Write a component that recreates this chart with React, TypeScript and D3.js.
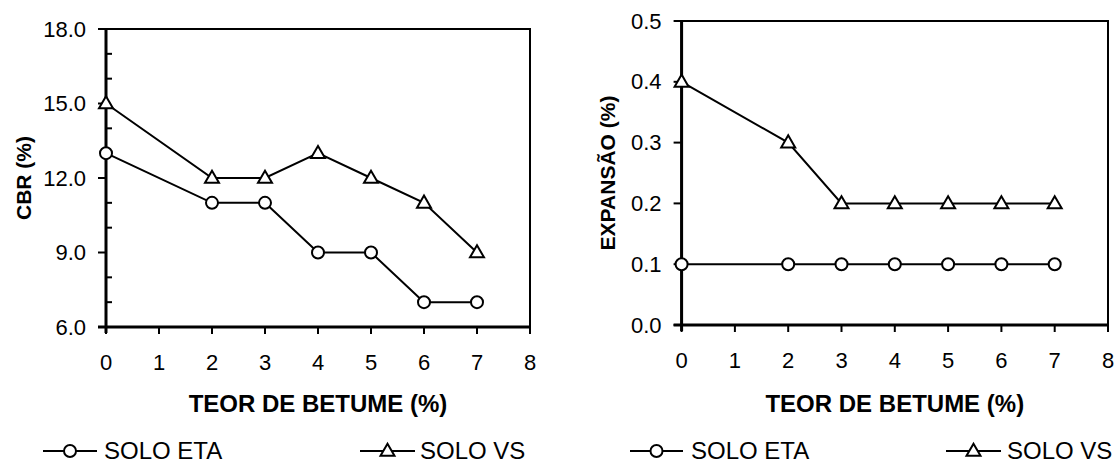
import React from 'react';
import * as d3 from 'd3';

const teor = [0, 2, 3, 4, 5, 6, 7];
const cbrEta = [13, 11, 11, 9, 9, 7, 7];
const cbrVs = [15, 12, 12, 13, 12, 11, 9];
const expEta = [0.1, 0.1, 0.1, 0.1, 0.1, 0.1, 0.1];
const expVs = [0.4, 0.3, 0.2, 0.2, 0.2, 0.2, 0.2];
const xTicks = [0, 1, 2, 3, 4, 5, 6, 7, 8];
const cbrTicks = [6, 9, 12, 15, 18];
const cbrMinor = [7, 8, 10, 11, 13, 14, 16, 17];
const expTicks = [0, 0.1, 0.2, 0.3, 0.4, 0.5];
const seriesNames = ['SOLO ETA', 'SOLO VS'];
const xTitle = 'TEOR DE BETUME (%)';

const FONT = "'Liberation Sans', Arial, sans-serif";
const FS = 22;

type PanelProps = {
  left: number; right: number; top: number; bottom: number;
  yDomain: [number, number]; yTicks: number[]; yMinor: number[];
  eta: number[]; vs: number[]; yTitle: string; yTitleX: number;
  legend: { etaLine: [number, number]; etaText: number; vsLine: [number, number]; vsText: number };
};

function Circle({ x, y }: { x: number; y: number }) {
  return <circle cx={x} cy={y} r={6} fill="white" stroke="black" strokeWidth={2} />;
}
function Tri({ x, y }: { x: number; y: number }) {
  const s = 14;
  const h = s * 0.866;
  const p = d3.path();
  p.moveTo(x, y - h * 0.6);
  p.lineTo(x + s / 2, y + h * 0.4);
  p.lineTo(x - s / 2, y + h * 0.4);
  p.closePath();
  return <path d={p.toString()} fill="white" stroke="black" strokeWidth={2} strokeLinejoin="miter" />;
}

function Panel(props: PanelProps) {
  const { left, right, top, bottom, yDomain, yTicks, yMinor, eta, vs, yTitle, yTitleX, legend } = props;
  const x = d3.scaleLinear().domain([0, 8]).range([left, right]);
  const y = d3.scaleLinear().domain(yDomain).range([bottom, top]);
  const line = d3.line<number>().x((_, i) => x(teor[i])).y((d) => y(d));
  const fmt = d3.format('.1f');
  const legY = 451;
  const legBase = 459;
  return (
    <g>
      <rect x={left} y={top} width={right - left} height={bottom - top} fill="white" stroke="black" strokeWidth={2} />
      <line x1={left} x2={left} y1={top} y2={bottom + 6} stroke="black" strokeWidth={3} />
      <line x1={left - 8} x2={right} y1={bottom} y2={bottom} stroke="black" strokeWidth={3} />
      {yTicks.map((t) => (
        <g key={'yt' + t}>
          <line x1={left - 8} x2={left} y1={y(t)} y2={y(t)} stroke="black" strokeWidth={2} />
          <text x={left - 20} y={y(t)} textAnchor="end" dominantBaseline="central" fontSize={FS} fontFamily={FONT}>{fmt(t)}</text>
        </g>
      ))}
      {yMinor.map((t) => (
        <line key={'ym' + t} x1={left} x2={left + 6} y1={y(t)} y2={y(t)} stroke="black" strokeWidth={2} />
      ))}
      {xTicks.map((t) => (
        <g key={'xt' + t}>
          <line x1={x(t)} x2={x(t)} y1={bottom} y2={bottom + 7} stroke="black" strokeWidth={2} />
          <text x={x(t)} y={bottom + 43} textAnchor="middle" fontSize={FS} fontFamily={FONT}>{t}</text>
        </g>
      ))}
      <text x={(left + right) / 2} y={412} textAnchor="middle" fontSize={24} fontWeight="bold" fontFamily={FONT}>{xTitle}</text>
      <text transform={`translate(${yTitleX},${(top + bottom) / 2}) rotate(-90)`} textAnchor="middle" dominantBaseline="central" fontSize={FS - 1} fontWeight="bold" fontFamily={FONT}>{yTitle}</text>
      <path d={line(eta) || ''} fill="none" stroke="black" strokeWidth={2} />
      <path d={line(vs) || ''} fill="none" stroke="black" strokeWidth={2} />
      {eta.map((v, i) => <Circle key={'c' + i} x={x(teor[i])} y={y(v)} />)}
      {vs.map((v, i) => <Tri key={'t' + i} x={x(teor[i])} y={y(v)} />)}
      <line x1={legend.etaLine[0]} x2={legend.etaLine[1]} y1={legY} y2={legY} stroke="black" strokeWidth={2} />
      <Circle x={(legend.etaLine[0] + legend.etaLine[1]) / 2} y={legY} />
      <text x={legend.etaText} y={legBase} fontSize={24} fontFamily={FONT}>{seriesNames[0]}</text>
      <line x1={legend.vsLine[0]} x2={legend.vsLine[1]} y1={legY} y2={legY} stroke="black" strokeWidth={2} />
      <Tri x={(legend.vsLine[0] + legend.vsLine[1]) / 2} y={legY} />
      <text x={legend.vsText} y={legBase} fontSize={24} fontFamily={FONT}>{seriesNames[1]}</text>
    </g>
  );
}

export default function App() {
  return (
    <svg width={1119} height={464} style={{ position: 'absolute', left: 0, top: 0, background: 'white' }}>
      <rect width={1119} height={464} fill="white" />
      <Panel left={106} right={530} top={29} bottom={327} yDomain={[6, 18]} yTicks={cbrTicks} yMinor={cbrMinor}
        eta={cbrEta} vs={cbrVs} yTitle="CBR (%)" yTitleX={23}
        legend={{ etaLine: [43, 97], etaText: 104, vsLine: [360, 415], vsText: 420 }} />
      <Panel left={681.6} right={1108} top={21} bottom={325} yDomain={[0, 0.5]} yTicks={expTicks} yMinor={[]}
        eta={expEta} vs={expVs} yTitle="EXPANSÃO (%)" yTitleX={607}
        legend={{ etaLine: [630, 683], etaText: 691, vsLine: [946, 1001], vsText: 1007 }} />
    </svg>
  );
}
